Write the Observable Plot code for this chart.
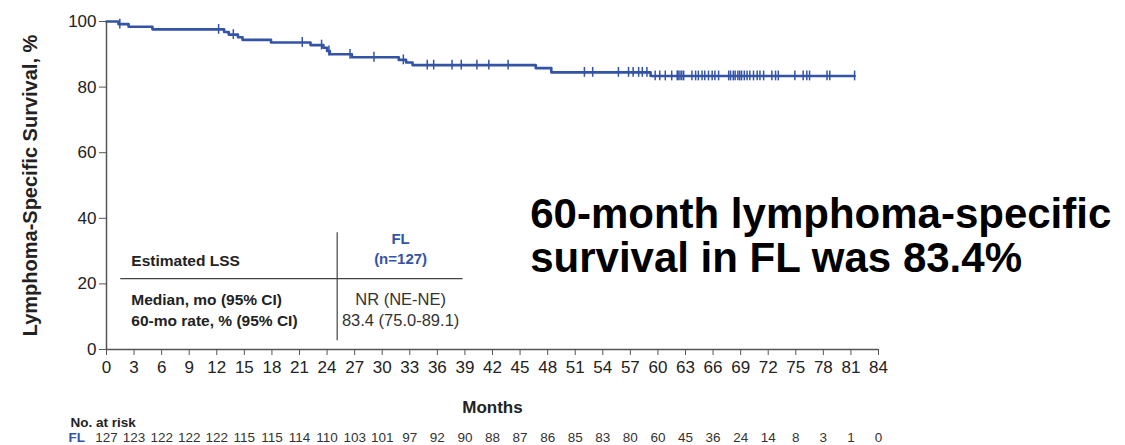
<!DOCTYPE html>
<html><head><meta charset="utf-8">
<script src="https://cdn.jsdelivr.net/npm/d3@7"></script>
<script src="https://cdn.jsdelivr.net/npm/@observablehq/plot@0.6"></script>
<style>html,body{margin:0;padding:0;background:#fff;}</style>
</head><body><div id="chart"></div>
<script>
// Kaplan-Meier step data (months, survival %)
const eventMonths = [0, 1.3, 2.4, 5.0, 12.8, 13.3, 14.3, 14.8, 17.9, 22.2, 23.6, 24.0, 24.3, 26.7, 31.8, 32.6, 33.3, 46.7, 48.4, 59.2, 81.4];
const survivalPct = [100, 99.2, 98.4, 97.6, 96.8, 96.0, 95.2, 94.4, 93.6, 92.8, 92.0, 91.0, 90.0, 89.1, 88.3, 87.5, 86.7, 85.8, 84.5, 83.4, 83.4];
// Censoring times (months)
const censorMonths = [1.45, 12.2, 13.8, 21.3, 23.4, 24.2, 26.5, 29.1, 32.3, 34.9, 35.6, 37.6, 38.6, 40.3, 41.6, 43.7,
  52.0, 52.9, 55.7, 56.8, 57.3, 57.9, 58.3, 58.8, 59.7, 60.2, 60.8, 61.5, 62.1, 62.2, 62.4, 62.6, 62.8,
  63.7, 64.1, 64.4, 64.8, 65.1, 65.5, 65.9, 66.2, 66.6, 67.7, 67.9, 68.2, 68.4, 68.7, 68.9, 69.1, 69.4,
  69.7, 70.0, 70.4, 70.8, 71.1, 71.5, 72.4, 72.8, 73.1, 74.9, 75.8, 76.2, 76.5, 78.4, 78.7, 81.4];
// Axis ticks
const xTicks = [0,3,6,9,12,15,18,21,24,27,30,33,36,39,42,45,48,51,54,57,60,63,66,69,72,75,78,81,84];
const yTicks = [0, 20, 40, 60, 80, 100];
// Number at risk at each x tick
const atRisk = [127,123,122,122,122,115,115,114,110,103,101,97,92,90,88,87,86,85,83,80,60,45,36,24,14,8,3,1,0];
// Table text
const tableHeader = "Estimated LSS";
const tableGroup = "FL\n(n=127)";
const tableRows = ["Median, mo (95% CI)", "60-mo rate, % (95% CI)"];
const tableValues = ["NR (NE-NE)", "83.4 (75.0-89.1)"];
const annotation = "60-month lymphoma-specific\nsurvival in FL was 83.4%";

const blue = "#3353a6";
const font = "'Liberation Sans', Arial, Helvetica, sans-serif";

const levelAt = t => { let s = survivalPct[0]; for (let i = 0; i < eventMonths.length; i++) if (eventMonths[i] <= t) s = survivalPct[i]; return s; };
const curve = eventMonths.map((t, i) => ({t, s: survivalPct[i]}));
const censors = censorMonths.map(t => ({t, s: levelAt(t)}));
const risk = xTicks.map((m, i) => ({m, n: atRisk[i]}));

const chart = Plot.plot({
  width: 1125, height: 445,
  marginLeft: 106, marginRight: 247, marginTop: 21, marginBottom: 96,
  style: {fontFamily: font, fontSize: "17px", color: "#222", background: "#fff"},
  x: {domain: [0, 84]},
  y: {domain: [0, 100]},
  marks: [
    Plot.axisX({ticks: xTicks, tickSize: 6, tickPadding: 5, fontSize: 17, stroke: "#555", fill: "#222", label: null}),
    Plot.axisY({ticks: yTicks, tickSize: 7, tickPadding: 3, fontSize: 17, stroke: "#555", fill: "#222", label: null}),
    Plot.ruleX([0], {y1: 0, y2: 100, stroke: "#555", strokeWidth: 1.5}),
    Plot.ruleY([0], {x1: 0, x2: 84, stroke: "#555", strokeWidth: 1.5}),
    // table
    Plot.ruleY([21.6], {x1: 1.55, x2: 38.8, stroke: "#444", strokeWidth: 1.2}),
    Plot.ruleX([25.1], {y1: 2.7, y2: 35.6, stroke: "#444", strokeWidth: 1.2}),
    Plot.text([tableHeader], {x: 2.7, y: 26.9, text: d => d, textAnchor: "start", fontWeight: "bold", fontSize: 15.5, fill: "#222"}),
    Plot.text([tableGroup], {x: 32.0, y: 31.0, text: d => d, fontWeight: "bold", fontSize: 15, fill: blue, lineHeight: 1.3}),
    Plot.text(tableRows, {x: 2.7, y: [15.2, 8.8], text: d => d, textAnchor: "start", fontWeight: "bold", fontSize: 15.5, fill: "#222"}),
    Plot.text(tableValues, {x: 32.0, y: [15.2, 8.8], text: d => d, fontSize: 16.5, fill: "#333"}),
    // KM curve
    Plot.line(curve, {x: "t", y: "s", curve: "step-after", stroke: blue, strokeWidth: 2.6}),
    Plot.ruleX(censors, {x: "t", y1: d => d.s - 1.5, y2: d => d.s + 1.5, stroke: blue, strokeWidth: 1.5}),
    // annotation
    Plot.text([annotation], {x: 46.1, y: 46.3, text: d => d, textAnchor: "start", lineAnchor: "top", fontWeight: "bold", fontSize: 42, lineHeight: 1.03, fill: "#000"}),
    // axis titles
    Plot.text(["Lymphoma-Specific Survival, %"], {frameAnchor: "left", dx: -76, rotate: -90, textAnchor: "middle", text: d => d, fontWeight: "bold", fontSize: 20, fill: "#222"}),
    Plot.text(["Months"], {frameAnchor: "bottom", dy: 63, text: d => d, fontWeight: "bold", fontSize: 17, fill: "#222"}),
    // number at risk
    Plot.text(["No. at risk"], {frameAnchor: "bottom-left", dx: -36, dy: 77, text: d => d, textAnchor: "start", fontWeight: "bold", fontSize: 13.5, fill: "#222"}),
    Plot.text(["FL"], {frameAnchor: "bottom-left", dx: -38, dy: 92, text: d => d, textAnchor: "start", fontWeight: "bold", fontSize: 13.5, fill: blue}),
    Plot.text(risk, {x: "m", frameAnchor: "bottom", dy: 92, text: d => String(d.n), fontSize: 13.5, fill: "#333"})
  ]
});
document.getElementById("chart").appendChild(chart);
</script>
</body></html>
